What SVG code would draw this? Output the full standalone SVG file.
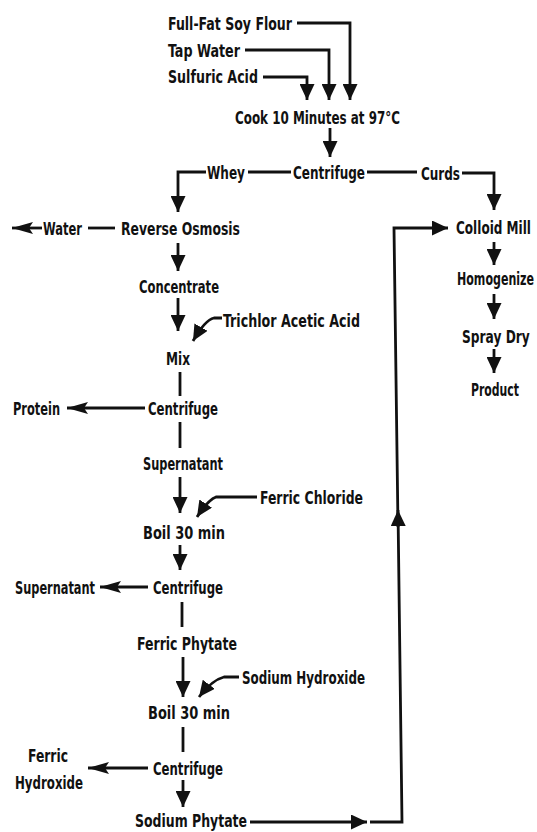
<svg xmlns="http://www.w3.org/2000/svg" width="537" height="832" viewBox="0 0 537 832">
<style>
text{font-family:"DejaVu Sans Condensed","DejaVu Sans","Liberation Sans",sans-serif;font-stretch:condensed;font-weight:bold;font-size:18px;fill:#111}
.c{fill:none;stroke:#111;stroke-width:2.8}
.a{marker-end:url(#ah)}
.l{marker-end:url(#al)}
</style>
<defs>
<marker id="ah" viewBox="0 0 16 15" refX="16" refY="7.5" markerWidth="16" markerHeight="15" markerUnits="userSpaceOnUse" orient="auto"><path d="M0,0 L16,7.5 L0,15 Z" fill="#111"/></marker>
<marker id="al" viewBox="0 0 21 12" refX="21" refY="6" markerWidth="21" markerHeight="12" markerUnits="userSpaceOnUse" orient="auto"><path d="M0,0 L21,6 L0,12 L4,6 Z" fill="#111"/></marker>
</defs>
<g id="connectors">
<path class="c a" d="M297,23 H350 V100"/>
<path class="c a" d="M245,50 H329 V100"/>
<path class="c a" d="M263,77 H307 V100"/>
<path class="c a" d="M330,128 V157"/>
<path class="c" d="M248,172 H291"/>
<path class="c a" d="M206,172 H178 V212"/>
<path class="c" d="M367,172 H417"/>
<path class="c a" d="M462,173 H494 V210"/>
<path class="c l" d="M42,228 H12"/>
<path class="c" d="M88,228 H115"/>
<path class="c a" d="M178,243 V271"/>
<path class="c a" d="M178,298 V331"/>
<path class="c a" d="M222,318 H214 Q205,320 193,341"/>
<path class="c" d="M180,372 V396"/>
<path class="c l" d="M145,408 H67"/>
<path class="c" d="M180,422 V448"/>
<path class="c a" d="M180,477 V513"/>
<path class="c a" d="M257,497 H216 Q208,500 197,517"/>
<path class="c a" d="M180,545 V570"/>
<path class="c l" d="M148,587 H100"/>
<path class="c" d="M182,602 V627"/>
<path class="c a" d="M183,657 V697"/>
<path class="c a" d="M239,677 H224 Q212,680 199,697"/>
<path class="c" d="M183,727 V752"/>
<path class="c l" d="M148,768 H88"/>
<path class="c a" d="M183,780 V807"/>
<path class="c a" d="M250,822 H367"/>
<path class="c a" d="M370,822 H402 L398,510"/>
<path class="c a" d="M398,527 L394,228 H448"/>
<path class="c a" d="M494,242 V265"/>
<path class="c a" d="M494,294 V319"/>
<path class="c a" d="M494,349 V373"/>
</g>
<g id="n-soy"><text x="168" y="29.5" textLength="124" lengthAdjust="spacingAndGlyphs">Full-Fat Soy Flour</text></g>
<g id="n-tap"><text x="168" y="56.5" textLength="72" lengthAdjust="spacingAndGlyphs">Tap Water</text></g>
<g id="n-sulf"><text x="168" y="82.5" textLength="90" lengthAdjust="spacingAndGlyphs">Sulfuric Acid</text></g>
<g id="n-cook"><text x="235" y="123.5" textLength="165" lengthAdjust="spacingAndGlyphs">Cook 10 Minutes at 97°C</text></g>
<g id="n-whey"><text x="207" y="178.5" textLength="38" lengthAdjust="spacingAndGlyphs">Whey</text></g>
<g id="n-cent1"><text x="293" y="178.5" textLength="72" lengthAdjust="spacingAndGlyphs">Centrifuge</text></g>
<g id="n-curds"><text x="421" y="179.5" textLength="39" lengthAdjust="spacingAndGlyphs">Curds</text></g>
<g id="n-water"><text x="43" y="234.5" textLength="39" lengthAdjust="spacingAndGlyphs">Water</text></g>
<g id="n-ro"><text x="121" y="234.5" textLength="119" lengthAdjust="spacingAndGlyphs">Reverse Osmosis</text></g>
<g id="n-colloid"><text transform="translate(456,233.5) scale(0.6,1)" textLength="125" lengthAdjust="spacingAndGlyphs">Colloid Mill</text></g>
<g id="n-conc"><text x="139" y="292.5" textLength="80" lengthAdjust="spacingAndGlyphs">Concentrate</text></g>
<g id="n-homog"><text transform="translate(457,284.5) scale(0.55,1)" textLength="140" lengthAdjust="spacingAndGlyphs">Homogenize</text></g>
<g id="n-tca"><text x="223" y="326.5" textLength="137" lengthAdjust="spacingAndGlyphs">Trichlor Acetic Acid</text></g>
<g id="n-spray"><text transform="translate(462,342.5) scale(0.6,1)" textLength="113" lengthAdjust="spacingAndGlyphs">Spray Dry</text></g>
<g id="n-mix"><text x="166" y="364.5" textLength="24" lengthAdjust="spacingAndGlyphs">Mix</text></g>
<g id="n-product"><text transform="translate(471,395.5) scale(0.6,1)" textLength="80" lengthAdjust="spacingAndGlyphs">Product</text></g>
<g id="n-protein"><text x="13" y="414.5" textLength="47" lengthAdjust="spacingAndGlyphs">Protein</text></g>
<g id="n-cent2"><text x="148" y="414.5" textLength="70" lengthAdjust="spacingAndGlyphs">Centrifuge</text></g>
<g id="n-super1"><text x="143" y="469.5" textLength="80" lengthAdjust="spacingAndGlyphs">Supernatant</text></g>
<g id="n-fecl"><text x="260" y="503.5" textLength="103" lengthAdjust="spacingAndGlyphs">Ferric Chloride</text></g>
<g id="n-boil1"><text x="143" y="538.5" textLength="82" lengthAdjust="spacingAndGlyphs">Boil 30 min</text></g>
<g id="n-super2"><text x="15" y="593.5" textLength="80" lengthAdjust="spacingAndGlyphs">Supernatant</text></g>
<g id="n-cent3"><text x="153" y="593.5" textLength="70" lengthAdjust="spacingAndGlyphs">Centrifuge</text></g>
<g id="n-feph"><text x="137" y="649.5" textLength="100" lengthAdjust="spacingAndGlyphs">Ferric Phytate</text></g>
<g id="n-naoh"><text x="242" y="683.5" textLength="123" lengthAdjust="spacingAndGlyphs">Sodium Hydroxide</text></g>
<g id="n-boil2"><text x="148" y="718.5" textLength="82" lengthAdjust="spacingAndGlyphs">Boil 30 min</text></g>
<g id="n-feoh"><text x="28" y="761.5" textLength="40" lengthAdjust="spacingAndGlyphs">Ferric</text><text x="15" y="788.5" textLength="68" lengthAdjust="spacingAndGlyphs">Hydroxide</text></g>
<g id="n-cent4"><text x="153" y="774.5" textLength="70" lengthAdjust="spacingAndGlyphs">Centrifuge</text></g>
<g id="n-naph"><text x="135" y="826.5" textLength="112" lengthAdjust="spacingAndGlyphs">Sodium Phytate</text></g>
</svg>
